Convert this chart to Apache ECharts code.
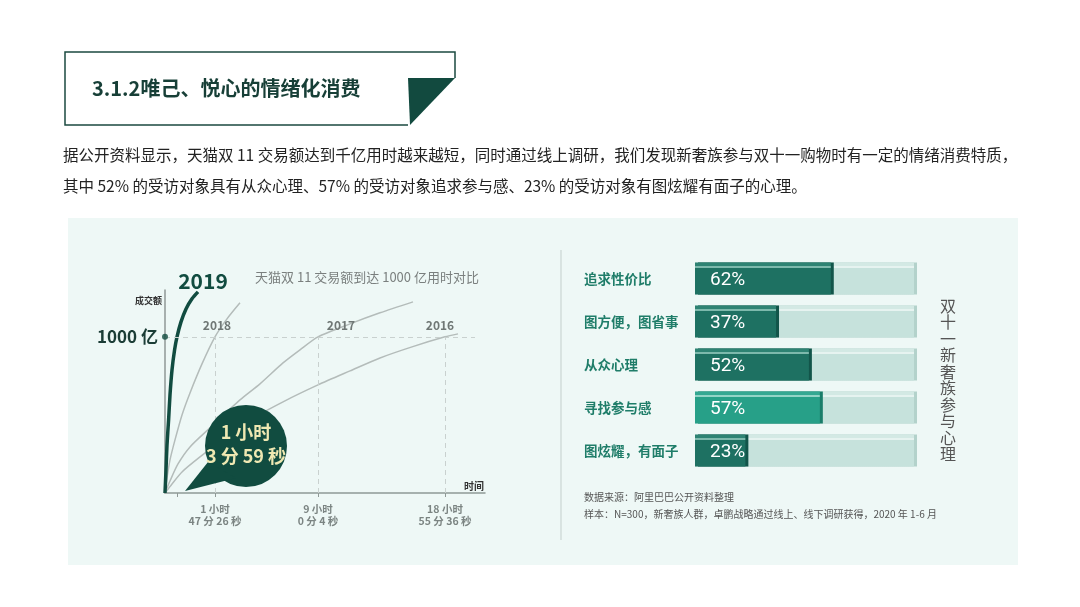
<!DOCTYPE html>
<html>
<head>
<meta charset="utf-8">
<script src="https://cdn.jsdelivr.net/npm/echarts@6/dist/echarts.min.js"></script>
<style>
  html, body { margin: 0; padding: 0; background: #fff; }
  #chart { width: 1080px; height: 607px; }
</style>
</head>
<body>
<div id="chart"></div>
<script>
// 左图：到达 1000 亿的曲线（横轴为示意位置，不是线性小时）
const curve2019 = [[0, 0], [0.05, 147], [0.1, 308], [0.18, 468], [0.25, 628], [0.35, 788], [0.48, 917], [0.6, 1000], [0.8, 1096], [1.05, 1179], [1.35, 1244], [1.65, 1288]];
const curve2018 = [[0, 0], [0.1, 96], [0.25, 212], [0.5, 340], [0.85, 500], [1.25, 641], [1.85, 827], [2.5, 1000], [3.1, 1115], [3.75, 1218]];
const curve2017 = [[0, 0], [0.25, 77], [0.65, 186], [1.25, 295], [2.25, 417], [3.75, 596], [4.75, 699], [5.9, 833], [6.75, 917], [7.65, 1000], [9.25, 1083], [10.75, 1154], [12.4, 1224]];
const curve2016 = [[0, 0], [0.35, 58], [0.85, 135], [1.75, 231], [3, 353], [4.25, 468], [6, 590], [7.65, 692], [9.25, 782], [10.75, 865], [12.35, 936], [14, 1000], [14.65, 1019]];
const crossX = [0.6, 2.5, 7.65, 14]; // 2019, 2018, 2017, 2016
const timeLabels = ['1 小时\n3 分 59 秒', '1 小时\n47 分 26 秒', '9 小时\n0 分 4 秒', '18 小时\n55 分 36 秒'];
const target = 1000;

// 右图：新奢族参与心理
const categories = ['追求性价比', '图方便，图省事', '从众心理', '寻找参与感', '图炫耀，有面子'];
const shares = [62, 37, 52, 57, 23];

const FONT = '"Noto Sans CJK SC", "Noto Sans", sans-serif';
const DARK = '#114c40';

const chart = echarts.init(document.getElementById('chart'));

const barGrad = (top, line, base) => new echarts.graphic.LinearGradient(0, 0, 0, 1, [
  {offset: 0, color: top}, {offset: 0.11, color: top},
  {offset: 0.12, color: line}, {offset: 0.17, color: line},
  {offset: 0.18, color: base}, {offset: 1, color: base}
]);

const grayLine = (name, data, idx) => ({
  name, type: 'line', xAxisIndex: 0, yAxisIndex: 0,
  data, smooth: 0.25, symbol: 'none',
  lineStyle: {color: '#b4bcba', width: 1.5},
  markLine: {
    silent: true, symbol: 'none', label: {show: false},
    lineStyle: {color: '#c9d1cf', type: [5, 4], width: 1},
    data: [[{coord: [crossX[idx], 0]}, {coord: [crossX[idx], target]}]]
  },
  z: 2
});

const option = {
  backgroundColor: '#ffffff',
  textStyle: {fontFamily: FONT},
  animation: false,
  grid: [
    {left: 165, top: 290, width: 320, height: 203},
    {left: 695, top: 257, width: 219, height: 215}
  ],
  xAxis: [
    {
      type: 'value', gridIndex: 0, min: 0, max: 16,
      axisLine: {lineStyle: {color: '#8f9996', width: 1.5}},
      axisTick: {customValues: crossX, length: 4, lineStyle: {color: '#8f9996'}},
      axisLabel: {
        customValues: crossX.slice(1),
        formatter: (v) => timeLabels[crossX.indexOf(v)],
        color: '#7b8482', fontSize: 10.5, lineHeight: 12, margin: 10, fontWeight: 'bold'
      },
      splitLine: {show: false}
    },
    {type: 'value', gridIndex: 1, min: 0, max: 100, show: false}
  ],
  yAxis: [
    {
      type: 'value', gridIndex: 0, min: 0, max: 1300,
      axisLine: {show: true, lineStyle: {color: '#8f9996', width: 1.5}},
      axisTick: {show: false},
      axisLabel: {
        customValues: [target], formatter: () => '1000 亿',
        color: '#1b3d36', fontSize: 17, fontWeight: 'bold', margin: 7
      },
      splitLine: {show: false}
    },
    {
      type: 'category', gridIndex: 1, data: categories, inverse: true,
      axisLine: {show: false}, axisTick: {show: false},
      axisLabel: {align: 'left', margin: 111, color: '#1f7d69', fontSize: 13.5, fontWeight: 'bold'}
    }
  ],
  series: [
    grayLine('2016', curve2016, 3),
    grayLine('2017', curve2017, 2),
    grayLine('2018', curve2018, 1),
    {
      name: '2019', type: 'line', xAxisIndex: 0, yAxisIndex: 0,
      data: curve2019, smooth: 0.25, symbol: 'none',
      lineStyle: {color: DARK, width: 3.5},
      markLine: {
        silent: true, symbol: 'none', label: {show: false},
        lineStyle: {color: '#c9d1cf', type: [5, 4], width: 1},
        data: [[{coord: [0, target]}, {coord: [15.5, target]}]]
      },
      z: 3
    },
    {
      type: 'scatter', xAxisIndex: 0, yAxisIndex: 0,
      data: [[0, target]], symbolSize: 6, itemStyle: {color: DARK}, z: 5
    },
    // 右图背景条
    {
      type: 'bar', xAxisIndex: 1, yAxisIndex: 1, silent: true,
      data: categories.map(() => 100), barWidth: 32, barGap: '-100%',
      itemStyle: {
        color: barGrad('#d3e9e4', '#e6f3f0', '#c6e2dc'),
        shadowColor: '#b3d2cb', shadowOffsetX: 3, shadowBlur: 0
      },
      z: 1
    },
    {
      type: 'bar', xAxisIndex: 1, yAxisIndex: 1,
      data: shares.map((v, i) => ({
        value: v,
        itemStyle: i === 3
          ? {color: barGrad('#34a892', '#93d4c6', '#27a088'), shadowColor: '#1a7d6a'}
          : {color: barGrad('#2e8373', '#7db9ac', '#1e7162'), shadowColor: '#12554a'}
      })),
      barWidth: 32,
      itemStyle: {shadowOffsetX: 3, shadowBlur: 0},
      label: {
        show: true, position: 'insideLeft', offset: [10, 2],
        formatter: '{c}%', color: '#ffffff', fontSize: 19,
        fontFamily: '"Liberation Sans Narrow", "Roboto", sans-serif'
      },
      z: 2
    }
  ],
  graphic: [
    // 浅色底板
    {type: 'rect', z: -10, shape: {x: 68, y: 218, width: 950, height: 347}, style: {fill: '#eef8f6'}},
    // 标题框
    {
      type: 'polyline', z: 10,
      shape: {points: [[408, 125], [65, 125], [65, 52], [455, 52], [455, 78]]},
      style: {stroke: '#1b4a40', lineWidth: 1.5, fill: null}
    },
    {type: 'polygon', z: 10, shape: {points: [[408, 78], [455, 78], [410, 125]]}, style: {fill: '#124a3f'}},
    {
      type: 'text', z: 10, x: 92, y: 88,
      style: {text: '3.1.2唯己、悦心的情绪化消费', fill: '#173f37', font: 'bold 20px ' + FONT, verticalAlign: 'middle'}
    },
    // 说明文字
    {
      type: 'text', z: 10, x: 63, y: 155,
      style: {
        text: '据公开资料显示，天猫双 11 交易额达到千亿用时越来越短，同时通过线上调研，我们发现新奢族参与双十一购物时有一定的情绪消费特质，',
        fill: '#222', font: '15.5px ' + FONT, verticalAlign: 'middle'
      }
    },
    {
      type: 'text', z: 10, x: 63, y: 186,
      style: {
        text: '其中 52% 的受访对象具有从众心理、57% 的受访对象追求参与感、23% 的受访对象有图炫耀有面子的心理。',
        fill: '#222', font: '15.5px ' + FONT, verticalAlign: 'middle'
      }
    },
    // 分隔线
    {type: 'line', z: 0, shape: {x1: 561, y1: 250, x2: 561, y2: 540}, style: {stroke: '#c3cfcc', lineWidth: 1}},
    // 左图标注
    {
      type: 'text', z: 10, x: 255, y: 277,
      style: {text: '天猫双 11 交易额到达 1000 亿用时对比', fill: '#7a7f7e', font: '13px ' + FONT, verticalAlign: 'middle'}
    },
    {type: 'text', z: 10, x: 203, y: 281, style: {text: '2019', fill: DARK, font: 'bold 21px ' + FONT, align: 'center', verticalAlign: 'middle'}},
    {type: 'text', z: 10, x: 217, y: 325, style: {text: '2018', fill: '#6f7775', font: 'bold 12px ' + FONT, align: 'center', verticalAlign: 'middle'}},
    {type: 'text', z: 10, x: 341, y: 325, style: {text: '2017', fill: '#6f7775', font: 'bold 12px ' + FONT, align: 'center', verticalAlign: 'middle'}},
    {type: 'text', z: 10, x: 440, y: 325, style: {text: '2016', fill: '#6f7775', font: 'bold 12px ' + FONT, align: 'center', verticalAlign: 'middle'}},
    {type: 'text', z: 10, x: 162, y: 301, style: {text: '成交额', fill: '#333', font: 'bold 9px ' + FONT, align: 'right', verticalAlign: 'middle'}},
    {type: 'text', z: 10, x: 484, y: 486, style: {text: '时间', fill: '#333', font: 'bold 10px ' + FONT, align: 'right', verticalAlign: 'middle'}},
    // 气泡
    {type: 'circle', z: 20, shape: {cx: 246, cy: 446, r: 41}, style: {fill: DARK}},
    {type: 'polygon', z: 20, shape: {points: [[185, 491], [208, 462], [236, 478]]}, style: {fill: DARK}},
    {
      type: 'text', z: 21, x: 246, y: 444,
      style: {text: timeLabels[0], fill: '#efe8b2', font: 'bold 18px ' + FONT, align: 'center', verticalAlign: 'middle', lineHeight: 24}
    },
    // 右图竖排标题与来源
    {
      type: 'text', z: 10, x: 948, y: 380,
      style: {text: '双十一新奢族参与心理'.split('').join('\n'), fill: '#555', font: '16px ' + FONT, align: 'center', verticalAlign: 'middle', lineHeight: 16.5}
    },
    {
      type: 'text', z: 10, x: 584, y: 497,
      style: {text: '数据来源：阿里巴巴公开资料整理', fill: '#555', font: '10px ' + FONT, verticalAlign: 'middle'}
    },
    {
      type: 'text', z: 10, x: 584, y: 514,
      style: {text: '样本：N=300，新奢族人群，卓鹏战略通过线上、线下调研获得，2020 年 1-6 月', fill: '#555', font: '10px ' + FONT, verticalAlign: 'middle'}
    }
  ]
};

chart.setOption(option);
</script>
</body>
</html>
